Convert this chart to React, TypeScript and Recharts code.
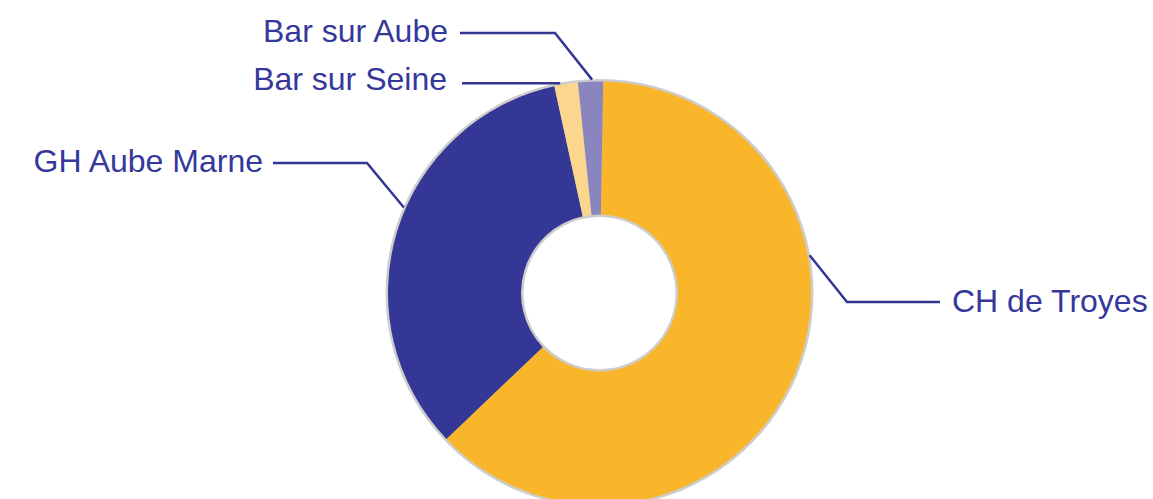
import React from "react";
import { PieChart, Pie, Cell } from "recharts";

// values (share of total, %)
const categories = ["CH de Troyes", "GH Aube Marne", "Bar sur Seine", "Bar sur Aube"];
const shares = [62.6, 33.7, 1.8, 1.9];
const colors = ["#FAB62A", "#343795", "#FDD68D", "#8A85BF"];

const data = categories.map((name, i) => ({ name, value: shares[i] }));

const TEXT = "#35389A";
const LINE = "#333794";

// leader line layout: where the line leaves the ring (angle clockwise from top),
// the elbow and the label anchor
const labelLayout: Record<string, { angle: number; elbow: [number, number] | null; end: number; tx: number; ty: number; anchor: "start" | "end" }> = {
     "CH de Troyes": { angle: 79.8, elbow: [847, 302], end: 940, tx: 952, ty: 312, anchor: "start" },
     "GH Aube Marne": { angle: 293.6, elbow: [367, 163], end: 273, tx: 263, ty: 172, anchor: "end" },
     "Bar sur Seine": { angle: 349.4, elbow: null, end: 462, tx: 447, ty: 90, anchor: "end" },
     "Bar sur Aube": { angle: 358, elbow: [555, 33], end: 460, tx: 448, ty: 42, anchor: "end" },
};

const CX = 599.5;
const CY = 293;
const R_OUT = 211.5;
const R_IN = 78.5;

const renderLabel = (props: any) => {
     const { name, cx, cy } = props;
     const cfg = labelLayout[name];
     if (!cfg) return null;
     const rad = (cfg.angle * Math.PI) / 180;
     const r = R_OUT + 2;
     const sx = cx + r * Math.sin(rad);
     const sy = cy - r * Math.cos(rad);
     let pts: string;
     if (cfg.elbow) {
          pts = `${sx},${sy} ${cfg.elbow[0]},${cfg.elbow[1]} ${cfg.end},${cfg.elbow[1]}`;
     } else {
          pts = `${sx},${sy} ${cfg.end},${sy}`;
     }
     return (
          <g>
               <polyline points={pts} fill="none" stroke={LINE} strokeWidth={2.5} />
               <text
                    x={cfg.tx}
                    y={cfg.ty}
                    textAnchor={cfg.anchor}
                    fill={TEXT}
                    fontSize={32}
                    fontFamily="'Liberation Sans', Arial, sans-serif"
               >
                    {name}
               </text>
          </g>
     );
};

export default function App() {
     return (
          <div style={{ position: "absolute", left: 0, top: 0, width: 1153, height: 499, background: "#fff" }}>
               <PieChart width={1153} height={499} margin={{ top: 0, right: 0, bottom: 0, left: 0 }}>
                    {/* thin grey rim around the ring */}
                    <Pie
                         data={[{ name: "rim", value: 1 }]}
                         dataKey="value"
                         cx={CX}
                         cy={CY}
                         innerRadius={R_IN - 2.5}
                         outerRadius={R_OUT + 2.5}
                         fill="#CDCDCD"
                         stroke="none"
                         isAnimationActive={false}
                    />
                    <Pie
                         data={data}
                         dataKey="value"
                         nameKey="name"
                         cx={CX}
                         cy={CY}
                         innerRadius={R_IN}
                         outerRadius={R_OUT}
                         startAngle={89}
                         endAngle={-271}
                         stroke="none"
                         label={renderLabel}
                         labelLine={false}
                         isAnimationActive={false}
                    >
                         {data.map((d, i) => (
                              <Cell key={d.name} fill={colors[i]} />
                         ))}
                    </Pie>
               </PieChart>
          </div>
     );
}
